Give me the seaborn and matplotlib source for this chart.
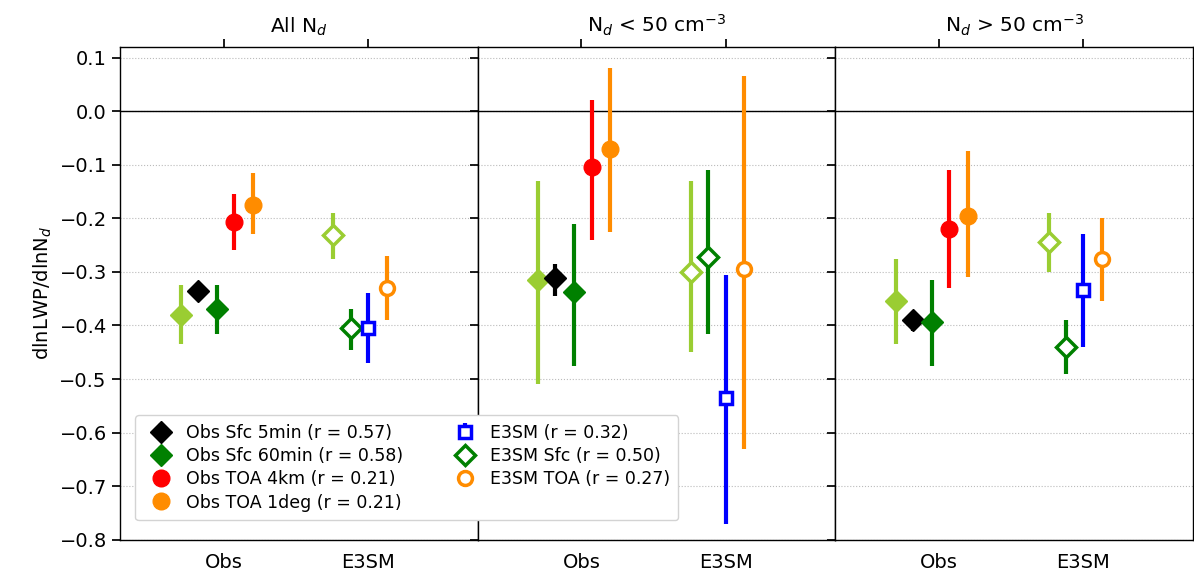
import matplotlib
matplotlib.use("Agg")
import matplotlib.pyplot as plt
import seaborn as sns
import numpy as np

sns.set_theme(style="white")
plt.rcParams['font.family'] = ['DejaVu Sans']
for k in ['text.color', 'axes.labelcolor', 'xtick.color', 'ytick.color']:
    plt.rcParams[k] = 'black'

panel_titles = ['All N$_d$', 'N$_d$ < 50 cm$^{-3}$', 'N$_d$ > 50 cm$^{-3}$']
groups = ['Obs', 'E3SM']

# Obs series: (label, color, marker, offset)
obs_series = [
    (None, 'yellowgreen', 'D', -0.30),
    ('Obs Sfc 5min (r = 0.57)', 'black', 'D', -0.18),
    ('Obs Sfc 60min (r = 0.58)', 'green', 'D', -0.05),
    ('Obs TOA 4km (r = 0.21)', 'red', 'o', 0.07),
    ('Obs TOA 1deg (r = 0.21)', 'darkorange', 'o', 0.20),
]
obs_val = [
    [-0.38, -0.335, -0.37, -0.207, -0.175],
    [-0.315, -0.312, -0.338, -0.105, -0.07],
    [-0.355, -0.39, -0.393, -0.22, -0.195],
]
obs_lo = [
    [-0.435, -0.345, -0.415, -0.26, -0.23],
    [-0.51, -0.345, -0.475, -0.24, -0.225],
    [-0.435, -0.41, -0.475, -0.33, -0.31],
]
obs_hi = [
    [-0.325, -0.325, -0.325, -0.155, -0.115],
    [-0.13, -0.285, -0.21, 0.02, 0.08],
    [-0.275, -0.375, -0.315, -0.11, -0.075],
]

e3sm_series = [
    (None, 'yellowgreen', 'D', -0.24),
    ('E3SM Sfc (r = 0.50)', 'green', 'D', -0.12),
    ('E3SM (r = 0.32)', 'blue', 's', 0.0),
    ('E3SM TOA (r = 0.27)', 'darkorange', 'o', 0.13),
]
e3sm_val = [
    [-0.232, -0.405, -0.405, -0.33],
    [-0.30, -0.272, -0.535, -0.295],
    [-0.245, -0.44, -0.333, -0.275],
]
e3sm_lo = [
    [-0.275, -0.445, -0.47, -0.39],
    [-0.45, -0.415, -0.77, -0.63],
    [-0.30, -0.49, -0.44, -0.355],
]
e3sm_hi = [
    [-0.19, -0.37, -0.34, -0.27],
    [-0.13, -0.11, -0.305, 0.065],
    [-0.19, -0.39, -0.23, -0.20],
]

fig, axes = plt.subplots(1, 3, figsize=(11.94, 5.78), dpi=100, sharey=True)
fig.subplots_adjust(left=0.1005, right=0.999, bottom=0.066, top=0.919, wspace=0)

handles = {}
for p, ax in enumerate(axes):
    for i, (lab, col, mk, off) in enumerate(obs_series):
        v = obs_val[p][i]
        h = ax.errorbar(1 + off, v, yerr=[[v - obs_lo[p][i]], [obs_hi[p][i] - v]],
                        fmt=mk, color=col, ms=11 if mk == 'D' else 12, elinewidth=3,
                        capsize=0, zorder=3)
        if lab:
            handles[lab] = h
    for i, (lab, col, mk, off) in enumerate(e3sm_series):
        v = e3sm_val[p][i]
        h = ax.errorbar(2 + off, v, yerr=[[v - e3sm_lo[p][i]], [e3sm_hi[p][i] - v]],
                        fmt=mk, color=col, mfc='white', mew=2.5,
                        ms=10 if mk != 's' else 9, elinewidth=3, capsize=0, zorder=3)
        if lab:
            handles[lab] = h
    ax.axhline(0, color='black', lw=1)
    ax.yaxis.grid(True, color='#bbbbbb', ls=':', lw=0.8)
    ax.set_xlim(0.28, 2.76)
    ax.set_ylim(-0.8, 0.12)
    ax.set_xticks([1, 2])
    ax.set_xticklabels(groups, fontsize=14)
    ax.set_yticks(np.arange(-0.8, 0.11, 0.1))
    ax.tick_params(axis='x', top=True, direction='out', length=6)
    ax.tick_params(axis='y', left=True, length=6, labelsize=14)
    ax.set_title(panel_titles[p], fontsize=14.5, pad=10)
    for s in ax.spines.values():
        s.set_color('black')
        s.set_linewidth(1)

axes[0].set_ylabel('dlnLWP/dlnN$_d$', fontsize=14)

order = ['Obs Sfc 5min (r = 0.57)', 'Obs Sfc 60min (r = 0.58)', 'Obs TOA 4km (r = 0.21)',
         'Obs TOA 1deg (r = 0.21)', 'E3SM (r = 0.32)', 'E3SM Sfc (r = 0.50)',
         'E3SM TOA (r = 0.27)']
hs = [handles[k] for k in order]
leg = fig.legend(hs, order, ncol=2, loc='lower left', bbox_to_anchor=(0.106, 0.085),
                 fontsize=12.5, frameon=True, framealpha=1, edgecolor='lightgray',
                 handletextpad=0.4, columnspacing=2.6, borderpad=0.5, labelspacing=0.3)
leg.set_zorder(10)

fig.savefig('out.png', dpi=100)
